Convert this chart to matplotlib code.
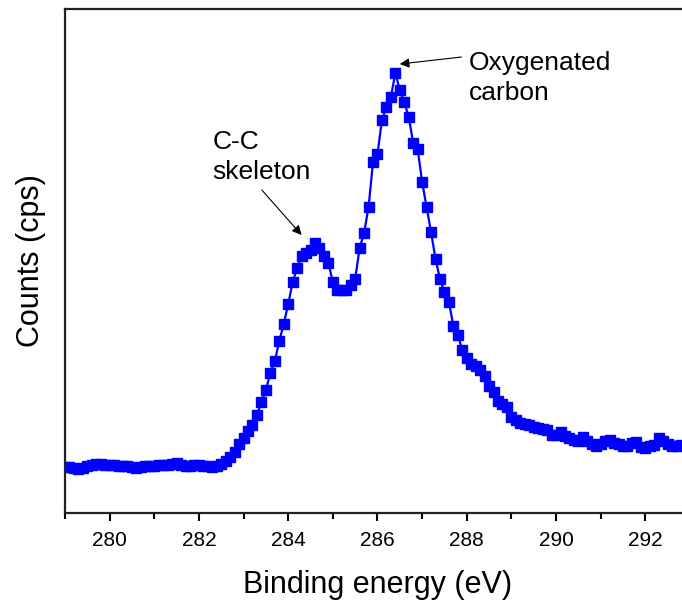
import numpy as np
import matplotlib
matplotlib.use("Agg")
import matplotlib.pyplot as plt
from matplotlib.ticker import MultipleLocator, NullLocator

plt.rcParams['font.family'] = ['Liberation Sans', 'DejaVu Sans']

# C 1s scan, 0.1 eV steps
energy = [
    279.0, 279.1, 279.2, 279.3, 279.4, 279.5, 279.6, 279.7, 279.8, 279.9,
    280.0, 280.1, 280.2, 280.3, 280.4, 280.5, 280.6, 280.7, 280.8, 280.9,
    281.0, 281.1, 281.2, 281.3, 281.4, 281.5, 281.6, 281.7, 281.8, 281.9,
    282.0, 282.1, 282.2, 282.3, 282.4, 282.5, 282.6, 282.7, 282.8, 282.9,
    283.0, 283.1, 283.2, 283.3, 283.4, 283.5, 283.6, 283.7, 283.8, 283.9,
    284.0, 284.1, 284.2, 284.3, 284.4, 284.5, 284.6, 284.7, 284.8, 284.9,
    285.0, 285.1, 285.2, 285.3, 285.4, 285.5, 285.6, 285.7, 285.8, 285.9,
    286.0, 286.1, 286.2, 286.3, 286.4, 286.5, 286.6, 286.7, 286.8, 286.9,
    287.0, 287.1, 287.2, 287.3, 287.4, 287.5, 287.6, 287.7, 287.8, 287.9,
    288.0, 288.1, 288.2, 288.3, 288.4, 288.5, 288.6, 288.7, 288.8, 288.9,
    289.0, 289.1, 289.2, 289.3, 289.4, 289.5, 289.6, 289.7, 289.8, 289.9,
    290.0, 290.1, 290.2, 290.3, 290.4, 290.5, 290.6, 290.7, 290.8, 290.9,
    291.0, 291.1, 291.2, 291.3, 291.4, 291.5, 291.6, 291.7, 291.8, 291.9,
    292.0, 292.1, 292.2, 292.3, 292.4, 292.5, 292.6, 292.7, 292.8,
]
counts = [
    46, 46, 45, 44, 45, 47, 48, 49, 49, 48,
    48, 48, 47, 47, 47, 46, 45, 46, 47, 47,
    47, 48, 48, 48, 49, 50, 48, 47, 47, 48,
    48, 47, 47, 46, 47, 49, 52, 56, 61, 69,
    75, 82, 88, 98, 111, 123, 140, 152, 172, 189,
    209, 231, 245, 257, 260, 263, 270, 265, 257, 250,
    231, 223, 223, 223, 228, 234, 265, 280, 306, 351,
    359, 393, 406, 416, 440, 423, 411, 396, 370, 364,
    331, 306, 281, 254, 234, 221, 211, 187, 178, 163,
    155, 149, 147, 143, 137, 127, 121, 112, 109, 106,
    96, 93, 90, 89, 88, 86, 85, 84, 83, 78,
    78, 81, 77, 75, 73, 72, 76, 72, 69, 67,
    69, 72, 73, 70, 69, 67, 67, 70, 71, 66,
    65, 67, 68, 75, 72, 69, 67, 67, 68,
]

fig = plt.figure(figsize=(6.82, 6.02), dpi=100)
ax = fig.add_axes([0.0953, 0.1478, 0.9164, 0.8372])

ax.plot(energy, counts, color='#0000FF', lw=1.6, marker='s', ms=6.8,
        mec='#0000FF', mfc='#0000FF')

ax.set_xlim(279, 293)
ax.set_ylim(0, 504)
ax.xaxis.set_major_locator(MultipleLocator(2))
ax.xaxis.set_minor_locator(MultipleLocator(1))
ax.yaxis.set_major_locator(NullLocator())
ax.tick_params(axis='x', which='major', direction='out', length=6, width=1.5,
               labelsize=15, pad=7)
ax.tick_params(axis='x', which='minor', direction='out', length=4, width=1.5)
for s in ax.spines.values():
    s.set_linewidth(1.6)
    s.set_color('#222222')

ax.set_xlabel('Binding energy (eV)', fontsize=22, labelpad=14)
ax.set_ylabel('Counts (cps)', fontsize=22, labelpad=14)

ax.text(282.31, 383, 'C-C\nskeleton', fontsize=19, ha='left', va='top',
        linespacing=1.3)
ax.annotate('', xy=(284.30, 278), xytext=(283.41, 323),
            arrowprops=dict(arrowstyle='-|>', color='black', lw=0.8,
                            mutation_scale=14, shrinkA=0, shrinkB=0))

ax.text(288.05, 462, 'Oxygenated\ncarbon', fontsize=19, ha='left', va='top',
        linespacing=1.3)
ax.annotate('', xy=(286.50, 449), xytext=(287.88, 456),
            arrowprops=dict(arrowstyle='-|>', color='black', lw=0.8,
                            mutation_scale=14, shrinkA=0, shrinkB=0))

fig.savefig('out.png', dpi=100)
